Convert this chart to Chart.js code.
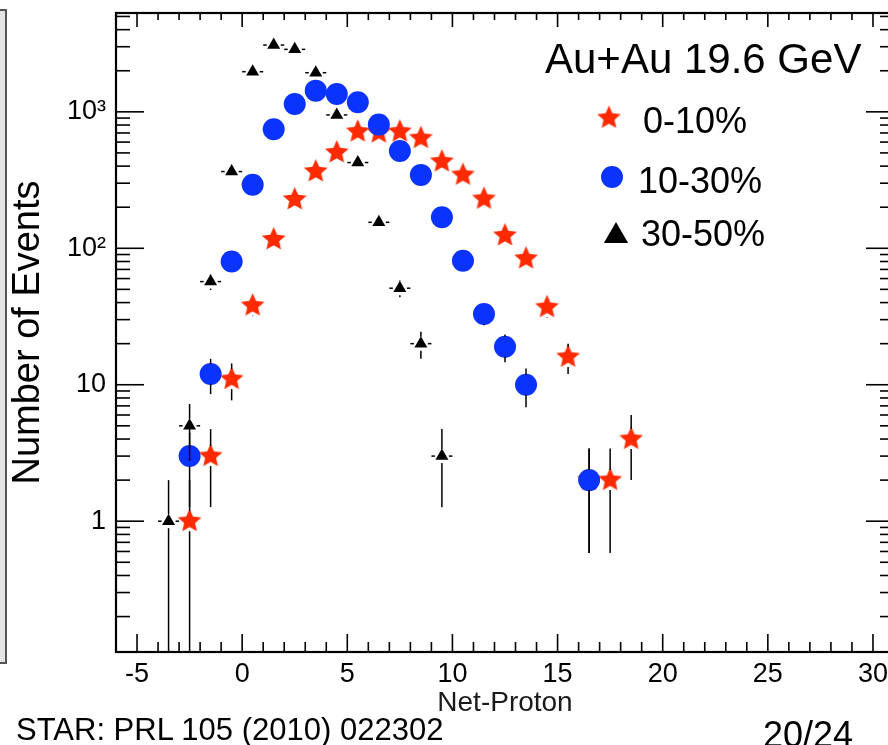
<!DOCTYPE html>
<html>
<head>
<meta charset="utf-8">
<script src="https://cdn.jsdelivr.net/npm/chart.js@4.4.1/dist/chart.umd.min.js"></script>
<style>
  html, body { margin: 0; padding: 0; background: #fff; overflow: hidden; }
  #wrap { position: relative; width: 900px; height: 745px; }
  #c { position: absolute; left: 0; top: 0; }
  .note { position: absolute; font-family: "Liberation Sans", Arial, sans-serif; color: #000; line-height: 1; white-space: nowrap; }
  #strip { position: absolute; left: -6px; top: 9px; width: 9px; height: 651px; border: 2px solid #555; background: #e4e4e4; }
</style>
</head>
<body>
<div id="wrap">
  <canvas id="c" width="900" height="745"></canvas>
  <div id="strip"></div>
  <div class="note" style="left:16px; top:714px; font-size:31px;">STAR: PRL 105 (2010) 022302</div>
  <div class="note" style="left:763px; top:717px; font-size:36px;">20/24</div>
</div>
<script>
// bin centres and event counts
var netProton = [-3.5, -2.5, -1.5, -0.5, 0.5, 1.5, 2.5, 3.5, 4.5, 5.5, 6.5, 7.5, 8.5, 9.5, 10.5, 11.5, 12.5, 13.5, 14.5, 15.5, 16.5, 17.5, 18.5];
var cent0to10  = [null, 1, 3, 11, 38, 116, 228, 365, 503, 716, 704, 716, 641, 432, 345, 230, 124, 84, 37, 16, 2, 2, 4];
var cent10to30 = [null, 3, 12, 80, 292, 746, 1143, 1430, 1352, 1175, 806, 517, 345, 169, 81, 33, 19, 10, null, null, 2, null, null];
var cent30to50 = [1, 5, 57, 365, 1968, 3085, 2870, 1935, 949, 425, 155, 51, 20, 3, null, null, null, null, null, null, null, null, null];
var seriesLabels = ['0-10%', '10-30%', '30-50%'];
var xTickValues = [-5, 0, 5, 10, 15, 20, 25, 30];
var yTickValues = [1, 10, 100, 1000];
var yTickLabels = ['1', '10', '10\u00b2', '10\u00b3'];

var FONT = '"Liberation Sans", Arial, Helvetica, sans-serif';
var RED = '#ff2a00', BLUE = '#0b33ff';
Chart.defaults.font.family = FONT;
Chart.defaults.color = '#000';

function toPoints(vals) {
  var pts = [];
  netProton.forEach(function (x, i) {
    if (vals[i] != null) pts.push({ x: x, y: vals[i] });
  });
  return pts;
}

function makeStar(R, color) {
  var c = document.createElement('canvas');
  var s = Math.ceil(R * 2 + 2);
  c.width = c.height = s;
  var g = c.getContext('2d');
  g.fillStyle = color;
  g.beginPath();
  for (var i = 0; i < 10; i++) {
    var r = i % 2 ? R * 0.46 : R;
    var a = -Math.PI / 2 + i * Math.PI / 5;
    g.lineTo(s / 2 + r * Math.cos(a), s / 2 + r * Math.sin(a));
  }
  g.closePath();
  g.fill();
  return c;
}
var starImg = makeStar(12.5, RED);

function line(ctx, x1, y1, x2, y2) {
  ctx.beginPath();
  ctx.moveTo(x1, y1);
  ctx.lineTo(x2, y2);
  ctx.stroke();
}

// sqrt(N) error bars, drawn outside the marker like ROOT does
var errorBars = {
  id: 'errorBars',
  afterDatasetsDraw: function (chart) {
    var ctx = chart.ctx, x = chart.scales.x, y = chart.scales.y, a = chart.chartArea;
    ctx.save();
    ctx.beginPath();
    ctx.rect(a.left, a.top, a.right - a.left, a.bottom - a.top);
    ctx.clip();
    ctx.strokeStyle = '#000';
    ctx.lineWidth = 1.5;
    chart.data.datasets.forEach(function (ds) {
      var gap = ds.barGap;
      ds.data.forEach(function (p) {
        var px = x.getPixelForValue(p.x), py = y.getPixelForValue(p.y);
        var err = Math.sqrt(p.y);
        var top = y.getPixelForValue(p.y + err);
        var lo = p.y - err;
        var bot = lo > 0 ? y.getPixelForValue(lo) : a.bottom;
        if (top < py - gap) line(ctx, px, top, px, py - gap);
        if (bot > py + gap) line(ctx, px, py + gap, px, bot);
        if (ds.xBars) {
          line(ctx, x.getPixelForValue(p.x - 0.5), py, px - gap, py);
          line(ctx, px + gap, py, x.getPixelForValue(p.x + 0.5), py);
        }
      });
    });
    ctx.restore();
  }
};

// frame with inward ticks on all four sides
var frame = {
  id: 'frame',
  afterDraw: function (chart) {
    var ctx = chart.ctx, x = chart.scales.x, y = chart.scales.y, a = chart.chartArea;
    ctx.save();
    ctx.strokeStyle = '#000';
    ctx.lineWidth = 1.6;
    var v, px, py;
    for (v = -5; v <= 30; v++) {
      px = x.getPixelForValue(v);
      var major = v % 5 === 0;
      line(ctx, px, a.bottom, px, a.bottom - (major ? 18 : 10));
      line(ctx, px, a.top, px, a.top + (major ? 14 : 7));
    }
    var decades = [0.1, 1, 10, 100, 1000];
    decades.forEach(function (d) {
      for (var k = 1; k <= 9; k++) {
        v = d * k;
        if (v < y.min || v > y.max) continue;
        py = y.getPixelForValue(v);
        var len = k === 1 ? 28 : 14;
        line(ctx, a.left, py, a.left + len, py);
        line(ctx, a.right, py, a.right - len, py);
      }
    });
    ctx.lineWidth = 2.2;
    ctx.strokeRect(a.left, a.top, a.right - a.left, a.bottom - a.top);
    ctx.restore();
  }
};

// legend box in the top right corner
var legendBox = {
  id: 'legendBox',
  afterDraw: function (chart) {
    var ctx = chart.ctx;
    ctx.save();
    ctx.fillStyle = '#000';
    ctx.textBaseline = 'alphabetic';
    ctx.font = '42px ' + FONT;
    ctx.fillText('Au+Au 19.6 GeV', 545, 73);
    ctx.font = '36px ' + FONT;
    ctx.drawImage(starImg, 609 - starImg.width / 2, 118 - starImg.height / 2);
    ctx.fillText(seriesLabels[0], 643, 133);
    ctx.fillStyle = BLUE;
    ctx.beginPath();
    ctx.arc(612, 177, 11, 0, Math.PI * 2);
    ctx.fill();
    ctx.fillStyle = '#000';
    ctx.fillText(seriesLabels[1], 638, 193);
    var r = 14, cx = 616, cy = 236;
    ctx.beginPath();
    ctx.moveTo(cx, cy - r);
    ctx.lineTo(cx + r * Math.sin(2 * Math.PI / 3), cy - r * Math.cos(2 * Math.PI / 3));
    ctx.lineTo(cx + r * Math.sin(4 * Math.PI / 3), cy - r * Math.cos(4 * Math.PI / 3));
    ctx.closePath();
    ctx.fill();
    ctx.fillText(seriesLabels[2], 641, 246);
    ctx.restore();
  }
};

function noPad(s) {
  s.paddingTop = 0;
  s.paddingBottom = 0;
  s.paddingLeft = 0;
  s.paddingRight = 0;
}

new Chart(document.getElementById('c'), {
  type: 'scatter',
  data: {
    datasets: [
      {
        label: seriesLabels[0],
        data: toPoints(cent0to10),
        pointStyle: starImg,
        backgroundColor: RED,
        borderWidth: 0,
        order: 3,
        barGap: 10
      },
      {
        label: seriesLabels[1],
        data: toPoints(cent10to30),
        pointStyle: 'circle',
        radius: 11,
        backgroundColor: BLUE,
        borderWidth: 0,
        order: 2,
        barGap: 10
      },
      {
        label: seriesLabels[2],
        data: toPoints(cent30to50),
        pointStyle: 'triangle',
        radius: 7.5,
        backgroundColor: '#000',
        borderWidth: 0,
        order: 1,
        barGap: 7,
        xBars: true
      }
    ]
  },
  options: {
    responsive: false,
    animation: false,
    events: [],
    layout: { autoPadding: false, padding: { top: 13, right: 6, left: 0, bottom: 0 } },
    plugins: { legend: { display: false }, tooltip: { enabled: false } },
    scales: {
      x: {
        type: 'linear',
        min: -6,
        max: 31,
        afterBuildTicks: function (s) { s.ticks = xTickValues.map(function (v) { return { value: v }; }); },
        afterFit: function (s) { s.height = 93; noPad(s); },
        grid: { display: false, drawTicks: false },
        border: { display: false },
        ticks: { font: { size: 27 }, color: '#000', padding: 6, maxRotation: 0, autoSkip: false },
        title: { display: true, text: 'Net-Proton', font: { size: 28 }, color: '#1a1a1a', padding: { top: 25, bottom: 25 } }
      },
      y: {
        type: 'logarithmic',
        min: 0.11,
        max: 5300,
        afterBuildTicks: function (s) { s.ticks = yTickValues.map(function (v) { return { value: v }; }); },
        afterFit: function (s) { s.width = 116; noPad(s); },
        grid: { display: false, drawTicks: false },
        border: { display: false },
        ticks: {
          font: { size: 27 },
          color: '#000',
          padding: 10,
          callback: function (v) { return yTickLabels[yTickValues.indexOf(v)]; }
        },
        title: { display: true, text: 'Number of Events', font: { size: 38 }, color: '#000', padding: { top: 6, bottom: 6 } }
      }
    }
  },
  plugins: [errorBars, frame, legendBox]
});
</script>
</body>
</html>
